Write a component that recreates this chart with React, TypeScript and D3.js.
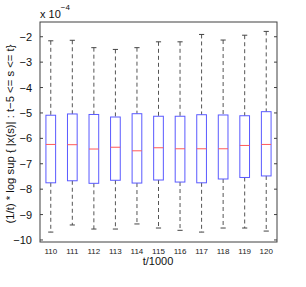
import React from "react";
import * as d3 from "d3";

const categories = ["110", "111", "112", "113", "114", "115", "116", "117", "118", "119", "120"];
const upperWhisker = [-2.16, -2.14, -2.43, -2.5, -2.43, -2.2, -2.2, -1.91, -2.13, -1.94, -1.79];
const q3 = [-5.09, -5.04, -5.06, -5.16, -5.03, -5.13, -5.13, -5.07, -5.08, -5.11, -4.95];
const medians = [-6.24, -6.25, -6.42, -6.35, -6.49, -6.37, -6.41, -6.41, -6.41, -6.28, -6.24];
const q1 = [-7.75, -7.67, -7.77, -7.65, -7.76, -7.64, -7.72, -7.75, -7.6, -7.54, -7.48];
const lowerWhisker = [-9.69, -9.41, -9.57, -9.57, -9.37, -9.53, -9.62, -9.69, -9.53, -9.53, -9.65];
const yTicks = [-2, -3, -4, -5, -6, -7, -8, -9, -10];

export default function App() {
  const W = 306, H = 287;
  const left = 40, right = 277, top = 22, bottom = 242;
  const x = d3.scaleLinear().domain([0.5, categories.length + 0.5]).range([left, right]);
  const y = d3.scaleLinear().domain([-10.08, -1.42]).range([bottom, top]);
  const boxW = x(1.225) - x(0.775);
  const capW = x(1.12) - x(0.88);
  const font = "'Liberation Sans', Arial, Helvetica, sans-serif";
  const axisColor = "#404040";
  return (
    <svg width={W} height={H} style={{ position: "absolute", left: 0, top: 0, background: "#fff" }} fontFamily={font}>
      <rect x={0} y={0} width={W} height={H} fill="#fff" />
      {categories.map((c, i) => {
        const cx = x(i + 1);
        return (
          <g key={c}>
            <line x1={cx} x2={cx} y1={y(upperWhisker[i])} y2={y(q3[i])} stroke="#555" strokeDasharray="4,3" strokeWidth={1} />
            <line x1={cx} x2={cx} y1={y(q1[i])} y2={y(lowerWhisker[i])} stroke="#555" strokeDasharray="4,3" strokeWidth={1} />
            <line x1={cx - capW / 2} x2={cx + capW / 2} y1={y(upperWhisker[i])} y2={y(upperWhisker[i])} stroke="#444" />
            <line x1={cx - capW / 2} x2={cx + capW / 2} y1={y(lowerWhisker[i])} y2={y(lowerWhisker[i])} stroke="#444" />
            <rect x={cx - boxW / 2} y={y(q3[i])} width={boxW} height={y(q1[i]) - y(q3[i])} fill="none" stroke="#5a5aff" strokeWidth={1} />
            <line x1={cx - boxW / 2} x2={cx + boxW / 2} y1={y(medians[i])} y2={y(medians[i])} stroke="#ff5a5a" strokeWidth={1} />
            <text x={cx} y={254} fontSize={8} textAnchor="middle" fill="#222">{c}</text>
          </g>
        );
      })}
      <rect x={left} y={top} width={right - left} height={bottom - top} fill="none" stroke={axisColor} strokeWidth={1} />
      {yTicks.map((t) => (
        <g key={t}>
          <line x1={left} x2={left + 3} y1={y(t)} y2={y(t)} stroke={axisColor} />
          <line x1={right - 3} x2={right} y1={y(t)} y2={y(t)} stroke={axisColor} />
          <text x={32} y={y(t) + 4} fontSize={11} textAnchor="end" fill="#111">{String(t).replace("-", "\u2212")}</text>
        </g>
      ))}
      <text x={40} y={17.5} fontSize={11} fill="#111">x 10<tspan fontSize={8} dy={-8}>{"\u22124"}</tspan></text>
      <text x={158} y={265} fontSize={11} textAnchor="middle" fill="#111">t/1000</text>
      <text transform="translate(14,134) rotate(-90)" fontSize={11.3} textAnchor="middle" fill="#111">
        (1/t) * log sup  {"{ |x(s)| : t\u22125 <= s <= t}"}
      </text>
    </svg>
  );
}
